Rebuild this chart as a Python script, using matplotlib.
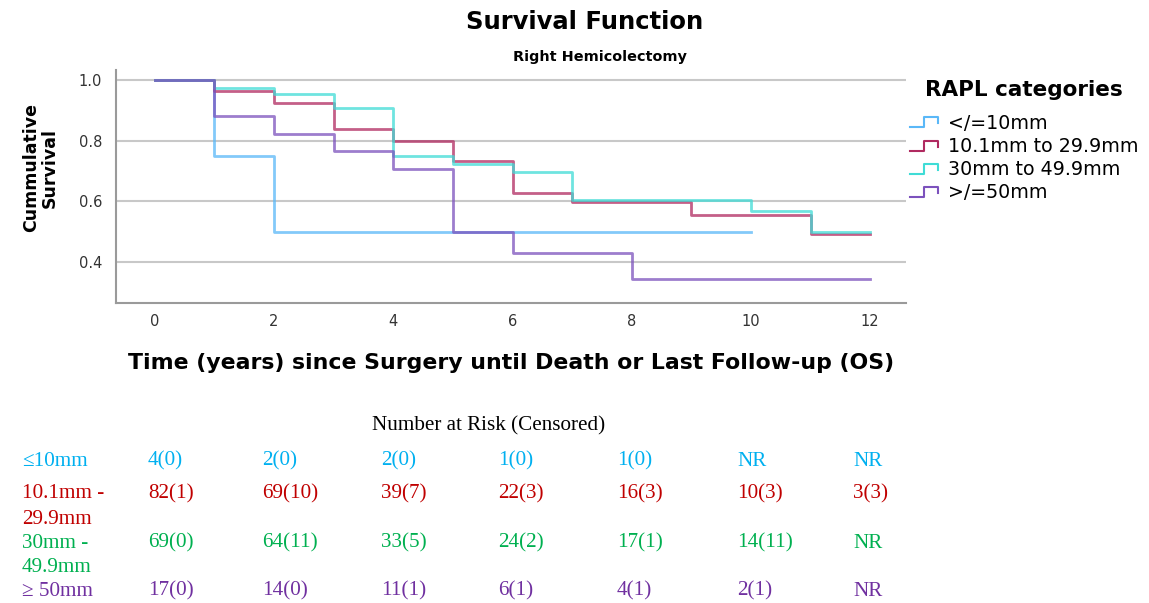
import matplotlib
matplotlib.use("Agg")
import matplotlib.pyplot as plt
from matplotlib.lines import Line2D
from matplotlib.legend_handler import HandlerBase

# survival step data (value holds from each time until the next one)
groups = ["</=10mm", "10.1mm to 29.9mm", "30mm to 49.9mm", ">/=50mm"]
t_le10 = [0, 1, 2, 10]
s_le10 = [1.0, 0.75, 0.50, 0.50]
t_10_30 = [0, 1, 2, 3, 4, 5, 6, 7, 9, 11, 12]
s_10_30 = [1.0, 0.963, 0.925, 0.838, 0.800, 0.733, 0.627, 0.598, 0.556, 0.493, 0.493]
t_30_50 = [0, 1, 2, 3, 4, 5, 6, 7, 10, 11, 12]
s_30_50 = [1.0, 0.972, 0.955, 0.906, 0.749, 0.724, 0.696, 0.604, 0.567, 0.499, 0.499]
t_ge50 = [0, 1, 2, 3, 4, 5, 6, 8, 12]
s_ge50 = [1.0, 0.882, 0.823, 0.765, 0.705, 0.500, 0.431, 0.345, 0.345]
line_colors = ["#5ab8f8", "#b02a60", "#3fdcd6", "#7c52bd"]

# number at risk table
risk_labels = ["\u226410mm", "10.1mm -\n29.9mm", "30mm -\n49.9mm", "\u2265 50mm"]
risk_le10 = ["4(0)", "2(0)", "2(0)", "1(0)", "1(0)", "NR", "NR"]
risk_10_30 = ["82(1)", "69(10)", "39(7)", "22(3)", "16(3)", "10(3)", "3(3)"]
risk_30_50 = ["69(0)", "64(11)", "33(5)", "24(2)", "17(1)", "14(11)", "NR"]
risk_ge50 = ["17(0)", "14(0)", "11(1)", "6(1)", "4(1)", "2(1)", "NR"]
risk_colors = ["#00b0f0", "#c00000", "#00b050", "#7030a0"]

W, H = 1149, 603


class StepHandler(HandlerBase):
    def create_artists(self, legend, orig, xd, yd, w, h, fontsize, trans):
        xs = [0, w * 0.5, w * 0.5, w, w]
        ys = [h * 0.1, h * 0.1, h * 0.85, h * 0.85, h * 0.4]
        ln = Line2D(xs, ys, color=orig.get_color(), lw=1.5, transform=trans)
        return [ln]


fig = plt.figure(figsize=(W / 100, H / 100), dpi=100)
ax = fig.add_axes([0.101, 0.4975, 0.6875, 0.3865])

times = [t_le10, t_10_30, t_30_50, t_ge50]
survs = [s_le10, s_10_30, s_30_50, s_ge50]
handles = []
for t, s, c, g in zip(times, survs, line_colors, groups):
    ax.step(t, s, where="post", color=c, lw=2, alpha=0.75, label=g)
    handles.append(Line2D([], [], color=c))

ax.set_xlim(-0.65, 12.6)
ax.set_ylim(0.265, 1.033)
ax.set_xticks(range(0, 13, 2))
ax.set_yticks([0.4, 0.6, 0.8, 1.0])
ax.set_yticklabels(["0.4", "0.6", "0.8", "1.0"])
ax.yaxis.grid(True, color="#c8c8c8", lw=1.5)
ax.set_axisbelow(True)
for side in ["top", "right"]:
    ax.spines[side].set_visible(False)
for side in ["left", "bottom"]:
    ax.spines[side].set_color("#9a9a9a")
    ax.spines[side].set_linewidth(1.5)
ax.tick_params(length=0, labelsize=10.5, colors="#333333")
ax.tick_params(axis="x", pad=8)
ax.tick_params(axis="y", pad=10)
ax.set_ylabel("Cummulative\nSurvival", fontsize=12.5, fontweight="bold", linespacing=1.05)
ax.yaxis.set_label_coords(-0.072, 0.58)
ax.set_xlabel("Time (years) since Surgery until Death or Last Follow-up (OS)",
              fontsize=15.8, fontweight="bold", labelpad=17)

fig.text(0.509, 1 - 22 / H, "Survival Function", ha="center", va="center", fontsize=17.5, fontweight="bold")
fig.text(0.522, 1 - 57 / H, "Right Hemicolectomy", ha="center", va="center", fontsize=10.4, fontweight="bold")

fig.text(925 / W, 1 - 90 / H, "RAPL categories", ha="left", va="center", fontsize=15.5, fontweight="bold")
leg = ax.legend(handles, groups, handler_map={Line2D: StepHandler()},
                loc="upper left", bbox_to_anchor=(906 / W, 1 - 110 / H),
                bbox_transform=fig.transFigure, frameon=False,
                fontsize=13.7, handlelength=1.5, handletextpad=0.5,
                labelspacing=0.22, borderaxespad=0.0, borderpad=0.2)

# risk table
serif = "Liberation Serif"
fig.text(0.425, 1 - 426 / H, "Number at Risk (Censored)", ha="center", va="center", fontsize=15.2, family=serif)
col_x = [148, 262, 381, 498, 617, 737, 853]
row_y = [461, 494, 543, 591]
rows = [risk_le10, risk_10_30, risk_30_50, risk_ge50]
for lab, vals, c, y in zip(risk_labels, rows, risk_colors, row_y):
    for i, part in enumerate(lab.split("\n")):
        fig.text(22 / W, 1 - (y + 25 * i) / H, part, ha="left", va="center",
                 fontsize=15.2, family=serif, color=c)
    for x, v in zip(col_x, vals):
        fig.text(x / W, 1 - y / H, v, ha="left", va="center",
                 fontsize=15.2, family=serif, color=c)

fig.savefig("out.png", dpi=100)
